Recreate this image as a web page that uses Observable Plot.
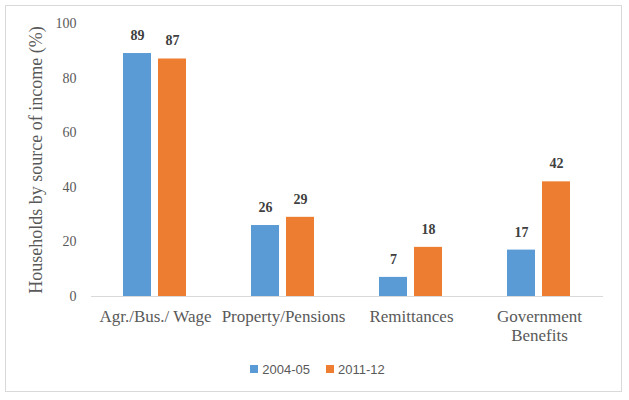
<!DOCTYPE html>
<html>
<head>
<meta charset="utf-8">
<script src="https://cdn.jsdelivr.net/npm/d3@7"></script>
<script src="https://cdn.jsdelivr.net/npm/@observablehq/plot@0.6"></script>
<style>
  html, body { margin: 0; padding: 0; background: #fff; }
  #wrap { position: relative; width: 629px; height: 400px; overflow: hidden; }
  #frame { position: absolute; left: 5px; top: 5px; width: 617px; height: 387px; border: 1px solid #d9d9d9; box-sizing: border-box; pointer-events: none; }
  #chart svg { display: block; }
  #legend { display: flex; justify-content: center; align-items: center; padding-left: 6px; margin-top: 5px; height: 18px;
    font-family: "Liberation Sans", Arial, sans-serif; font-size: 13px; color: #595959; }
  .item { display: flex; align-items: center; margin: 0 8px; }
  .sw { width: 8px; height: 8px; margin-right: 4px; }
</style>
</head>
<body>
<div id="wrap">
  <div id="chart"></div>
  <div id="legend"></div>
  <div id="frame"></div>
</div>
<script>
const categories = ["Agr./Bus./ Wage", "Property/Pensions", "Remittances", "Government Benefits"];
const categoryTickLabels = ["Agr./Bus./ Wage", "Property/Pensions", "Remittances", "Government\nBenefits"];
const seriesNames = ["2004-05", "2011-12"];
const values2004 = [89, 26, 7, 17];
const values2011 = [87, 29, 18, 42];
const yTicks = [0, 20, 40, 60, 80, 100];
const seriesColors = ["#5B9BD5", "#ED7D31"];
const yLabel = "Households by source of income (%)";

const seriesValues = [values2004, values2011];
const data = categories.flatMap((c, i) =>
  seriesNames.map((s, j) => ({category: c, series: s, value: seriesValues[j][i]}))
);

const plot = Plot.plot({
  width: 629,
  height: 355,
  marginLeft: 90,
  marginRight: 25,
  marginTop: 23,
  marginBottom: 59,
  style: {fontFamily: "'Liberation Serif', 'DejaVu Serif', serif", background: "transparent", overflow: "visible"},
  fx: {domain: categories, padding: 0, label: null, axis: null},
  x: {domain: seriesNames, paddingInner: 0.194, paddingOuter: 0.88, axis: null},
  y: {domain: [0, 100], axis: null},
  color: {domain: seriesNames, range: seriesColors},
  marks: [
    Plot.axisFx({anchor: "bottom", tickSize: 0, tickPadding: 12, fontSize: 17, color: "#595959", lineHeight: 1.12,
      tickFormat: d => categoryTickLabels[categories.indexOf(d)], label: null}),
    Plot.axisY({ticks: yTicks, tickSize: 0, tickPadding: 15, fontSize: 14, color: "#595959", label: null}),
    Plot.axisY({ticks: [], tickSize: 0, label: yLabel, labelArrow: false, labelAnchor: "center", labelOffset: 62, fontSize: 18, color: "#595959"}),
    Plot.barY(data, {fx: "category", x: "series", y: "value", fill: "series"}),
    Plot.ruleY([0], {stroke: "#d9d9d9", strokeWidth: 1}),
    Plot.text(data, {fx: "category", x: "series", y: "value", text: d => String(d.value), dy: -18,
      fontSize: 14, fontWeight: "bold", fill: "#404040"})
  ]
});
document.getElementById("chart").appendChild(plot);

const legend = document.getElementById("legend");
seriesNames.forEach((s, i) => {
  const item = document.createElement("div");
  item.className = "item";
  const sw = document.createElement("div");
  sw.className = "sw";
  sw.style.background = seriesColors[i];
  const t = document.createElement("span");
  t.textContent = s;
  item.appendChild(sw);
  item.appendChild(t);
  legend.appendChild(item);
});
</script>
</body>
</html>
